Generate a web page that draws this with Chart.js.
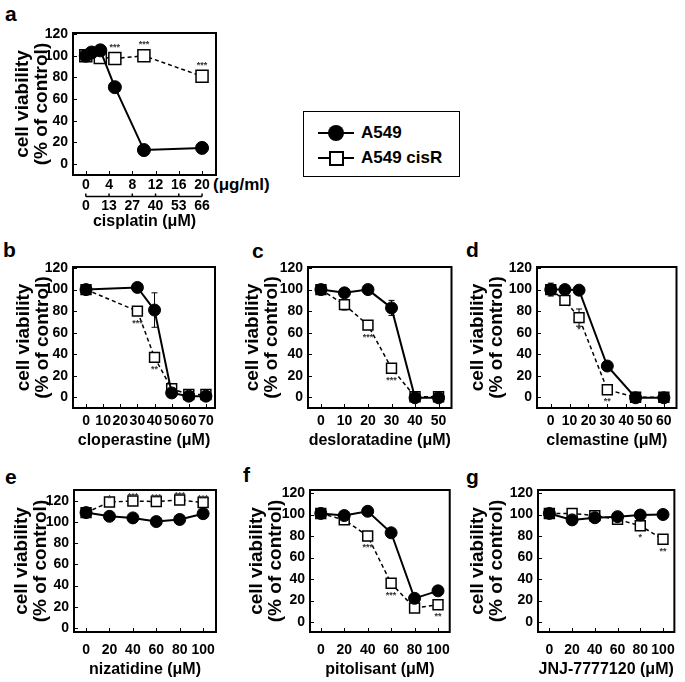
<!DOCTYPE html>
<html>
<head>
<meta charset="utf-8">
<script src="https://cdn.jsdelivr.net/npm/chart.js@4.4.0/dist/chart.umd.min.js"></script>
<style>
  body { margin: 0; background: #fff; }
  #fig { position: relative; width: 685px; height: 682px; overflow: hidden;
         font-family: 'Liberation Sans', Arial, sans-serif; font-weight: bold; color: #000; }
  #fig canvas { position: absolute; }
  .letter { position: absolute; font-size: 21px; line-height: 20px; }
  .unit { position: absolute; font-size: 17px; line-height: 18px; }
  #legend { position: absolute; left: 303px; top: 111px; width: 155px; height: 64px;
            border: 1.5px solid #000; }
  .key { position: absolute; left: 14px; width: 36px; height: 16px; }
  .key::before { content: ''; position: absolute; left: 0; right: 0; top: 7px; height: 2px; background: #000; }
  .key.dash::before { height: 1.5px; }
  .dot { position: absolute; left: 10px; top: 0; width: 16px; height: 16px; border-radius: 50%; background: #000; }
  .sq { position: absolute; left: 11px; top: 1px; width: 11px; height: 11px; border: 2px solid #000; background: #fff; }
  .ktxt { position: absolute; left: 57px; font-size: 17px; line-height: 16px; }
</style>
</head>
<body>
<div id="fig">
  <div class="letter" style="left:5px;top:4px">a</div>
  <div class="letter" style="left:3px;top:240px">b</div>
  <div class="letter" style="left:252px;top:241px">c</div>
  <div class="letter" style="left:466px;top:240px">d</div>
  <div class="letter" style="left:5px;top:467px">e</div>
  <div class="letter" style="left:243px;top:465px">f</div>
  <div class="letter" style="left:466px;top:467px">g</div>
  <div class="unit" style="left:213px;top:176px">(μg/ml)</div>
  <div id="legend">
    <div class="key" style="top:13px"><span class="dot"></span></div>
    <div class="ktxt" style="top:13px">A549</div>
    <div class="key dash" style="top:38px"><span class="sq"></span></div>
    <div class="ktxt" style="top:38px">A549 cisR</div>
  </div>
</div>

<script>
/* ---------- data ---------- */
const yTicks = [0, 20, 40, 60, 80, 100, 120];

// a: cisplatin (upper axis μg/ml, lower axis μM)
const aDoseA549 = [0, 1, 2.5, 5, 10, 20];
const aA549 = [100, 103, 105, 71, 13, 15];
const aDoseCisR = [0, 2.5, 5, 10, 20];
const aCisR = [100, 98.5, 97.5, 100, 81];
const aSigCisR = ['', '', '***', '***', '***'];
const aTicksUg = [0, 4, 8, 12, 16, 20];
const aTicksUM = ['0', '13', '27', '40', '53', '66'];

// b: cloperastine
const bDose = [0, 30, 40, 50, 60, 70];
const bA549 = [100, 102, 81, 4, 1, 1];
const bA549Err = [0, 0, 16, 0, 0, 0];
const bCisR = [100, 80, 37, 8, 2.5, 2.5];
const bCisRErr = [0, 0, 3, 0, 0, 0];
const bSigCisR = ['', '***', '**', '', '', ''];
const bTicks = [0, 10, 20, 30, 40, 50, 60, 70];

// c: desloratadine
const cDose = [0, 10, 20, 30, 40, 50];
const cA549 = [100, 97, 100, 83, -0.5, -0.5];
const cA549Err = [0, 4, 0, 7, 0, 0];
const cCisR = [100, 86, 67, 27, 0.5, 0.5];
const cCisRErr = [0, 5, 3, 4, 0, 0];
const cSigCisR = ['', '', '***', '***', '', ''];
const cTicks = [0, 10, 20, 30, 40, 50];

// d: clemastine
const dDose = [0, 7.5, 15, 30, 45, 60];
const dA549 = [100, 100, 99.5, 29, -0.5, -0.5];
const dA549Err = [6, 0, 4, 0, 0, 0];
const dCisR = [100, 90, 74, 7, 0, 0];
const dCisRErr = [0, 2, 8, 0, 0, 0];
const dSigCisR = ['', '', '*', '**', '', ''];
const dTicks = [0, 10, 20, 30, 40, 50, 60];

// e: nizatidine
const eDose = [0, 20, 40, 60, 80, 100];
const eA549 = [109, 105.5, 104, 100.5, 102.5, 108];
const eCisR = [109, 119, 120, 119.5, 121, 118.5];
const eSigCisR = ['', '*', '***', '***', '***', '***'];

// f: pitolisant
const fDose = [0, 20, 40, 60, 80, 100];
const fA549 = [101, 99, 103, 83, 22, 29];
const fA549Err = [0, 0, 0, 4, 0, 0];
const fCisR = [101, 95, 80, 36, 13, 16];
const fCisRErr = [0, 0, 4, 0, 0, 0];
const fSigCisR = ['', '', '***', '***', '', '**'];

// g: JNJ-7777120
const gDose = [0, 20, 40, 60, 80, 100];
const gA549 = [101, 95, 97, 98, 99.5, 100];
const gCisR = [101, 101, 99, 95.5, 89.5, 77];
const gSigCisR = ['', '', '', '', '*', '**'];

const doseTicks100 = [0, 20, 40, 60, 80, 100];

/* ---------- drawing helpers ---------- */
Chart.defaults.font.family = "'Liberation Sans', Arial, sans-serif";
Chart.defaults.font.weight = 'bold';
Chart.defaults.font.size = 14;
Chart.defaults.color = '#000';

function pts(xs, ys) {
  return xs.map((x, i) => ({ x: x, y: ys[i] }));
}

// frame box, inward ticks, error bars, significance stars, lower μM axis line
const extras = {
  id: 'extras',
  beforeDatasetsDraw(chart, args, opts) {
    const { ctx, scales } = chart;
    ctx.save();
    ctx.strokeStyle = '#000';
    ctx.lineWidth = 1;
    (opts.err || []).forEach((errs, di) => {
      if (!errs) return;
      const meta = chart.getDatasetMeta(di).data;
      const ds = chart.data.datasets[di].data;
      errs.forEach((e, i) => {
        if (!e) return;
        const x = meta[i].x;
        const y1 = scales.y.getPixelForValue(ds[i].y + e);
        const y2 = scales.y.getPixelForValue(ds[i].y - e);
        ctx.beginPath();
        ctx.moveTo(x, y1); ctx.lineTo(x, y2);
        ctx.moveTo(x - 3, y1); ctx.lineTo(x + 3, y1);
        ctx.moveTo(x - 3, y2); ctx.lineTo(x + 3, y2);
        ctx.stroke();
      });
    });
    ctx.restore();
  },
  afterDatasetsDraw(chart, args, opts) {
    const { ctx, chartArea: ca, scales } = chart;
    ctx.save();
    ctx.strokeStyle = '#000';
    ctx.lineWidth = 2;
    ctx.strokeRect(ca.left, ca.top, ca.right - ca.left, ca.bottom - ca.top);
    ctx.lineWidth = 1;
    ctx.beginPath();
    scales.y.ticks.forEach(t => {
      const y = Math.round(scales.y.getPixelForValue(t.value)) + 0.5;
      ctx.moveTo(ca.left, y); ctx.lineTo(ca.left + 4, y);
    });
    scales.x.ticks.forEach(t => {
      const x = Math.round(scales.x.getPixelForValue(t.value)) + 0.5;
      ctx.moveTo(x, ca.bottom); ctx.lineTo(x, ca.bottom - 4);
    });
    ctx.stroke();

    // stars
    if (opts.sig) {
      ctx.fillStyle = '#333';
      ctx.font = 'bold 9px "Liberation Sans", Arial, sans-serif';
      ctx.textAlign = 'center';
      ctx.textBaseline = 'middle';
      const meta = chart.getDatasetMeta(1).data;
      opts.sig.forEach((s, i) => {
        if (!s) return;
        const off = opts.sigSide === 'above' ? -opts.sigOff : opts.sigOff;
        ctx.fillText(s, meta[i].x, meta[i].y + off);
      });
    }

    // lower μM axis for panel a
    if (scales.x2) {
      const s = scales.x2;
      const y = Math.round(s.top) + 1.5;
      const x0 = s.getPixelForValue(s.ticks[0].value);
      const x1 = s.getPixelForValue(s.ticks[s.ticks.length - 1].value);
      ctx.lineWidth = 1.5;
      ctx.beginPath();
      ctx.moveTo(x0, y); ctx.lineTo(x1, y);
      s.ticks.forEach(t => {
        const x = s.getPixelForValue(t.value);
        ctx.moveTo(x, y); ctx.lineTo(x, y - 3);
      });
      ctx.stroke();
    }
    ctx.restore();
  }
};

function buildPanel(p) {
  const cv = document.createElement('canvas');
  cv.width = p.w;
  cv.height = p.h;
  cv.style.left = p.left + 'px';
  cv.style.top = p.top + 'px';
  document.getElementById('fig').appendChild(cv);

  const [bl, bt, br, bb] = p.box;
  const bottomEdge = p.top + p.h;
  const big = !!p.big;

  const scales = {
    x: {
      type: 'linear', min: p.xMin, max: p.xMax, weight: 0,
      grid: { display: false, drawTicks: false }, border: { display: false },
      afterBuildTicks: s => { s.ticks = p.xTicks.map(v => ({ value: v })); },
      ticks: { padding: p.xTickPad, maxRotation: 0, autoSkip: false },
      afterFit: s => { s.height = p.xH || (bottomEdge - bb); }
    },
    y: {
      type: 'linear', min: p.yMin, max: p.yMax,
      grid: { display: false, drawTicks: false }, border: { display: false },
      afterBuildTicks: s => { s.ticks = yTicks.map(v => ({ value: v })); },
      ticks: { padding: 5 },
      title: {
        display: true, text: ['cell viability', '(% of control)'],
        font: { size: 19, weight: 'bold', lineHeight: 1.0 },
        padding: { top: p.yTitleX - p.left - 9.5, bottom: 0 }
      },
      afterFit: s => { s.width = bl - p.left; }
    }
  };

  const xTitle = {
    display: true, text: p.xTitle,
    font: { size: 16, weight: 'bold', lineHeight: 1.2 },
    padding: { top: 0, bottom: bottomEdge - p.xTitleY - 9.6 }
  };

  if (p.x2Labels) {
    scales.x2 = {
      type: 'linear', position: 'bottom', min: p.xMin, max: p.xMax, weight: 1,
      grid: { display: false, drawTicks: false }, border: { display: false },
      afterBuildTicks: s => { s.ticks = p.xTicks.map(v => ({ value: v })); },
      ticks: { padding: 3, maxRotation: 0, autoSkip: false,
               callback: (v, i) => p.x2Labels[i] },
      title: xTitle,
      afterFit: s => { s.height = bottomEdge - bb - p.xH; }
    };
  } else {
    scales.x.title = xTitle;
  }

  new Chart(cv, {
    type: 'line',
    data: {
      datasets: [
        {
          label: 'A549', data: p.a549, borderColor: '#000', borderWidth: 2,
          pointStyle: 'circle', pointRadius: big ? 6.5 : 6, pointBackgroundColor: '#000',
          pointBorderColor: '#000', pointBorderWidth: 1, tension: 0, clip: false
        },
        {
          label: 'A549 cisR', data: p.cisR, borderColor: '#000', borderWidth: 1.5,
          borderDash: [4, 3], pointStyle: 'rect', pointRadius: big ? 8.5 : 7,
          pointBackgroundColor: '#fff', pointBorderColor: '#000', pointBorderWidth: 1.5,
          tension: 0, clip: false
        }
      ]
    },
    options: {
      responsive: false, animation: false,
      layout: { padding: { left: 0, top: bt - p.top, right: p.left + p.w - br, bottom: 0 } },
      scales: scales,
      plugins: {
        legend: { display: false }, tooltip: { enabled: false },
        extras: { err: [p.a549Err, p.cisRErr], sig: p.sig, sigSide: p.sigSide, sigOff: p.sigOff }
      }
    },
    plugins: [extras]
  });
}

/* ---------- panels ---------- */
buildPanel({
  left: 0, top: 0, w: 240, h: 236, box: [73, 33, 216, 175], big: true,
  xMin: -2.2, xMax: 22.4, xTicks: aTicksUg, x2Labels: aTicksUM, xH: 20, xTickPad: 2,
  yMin: -10, yMax: 121, yTitleX: 23, xTitle: 'cisplatin (μM)', xTitleY: 222,
  a549: pts(aDoseA549, aA549), cisR: pts(aDoseCisR, aCisR),
  sig: aSigCisR, sigSide: 'above', sigOff: 11
});
buildPanel({
  left: 0, top: 240, w: 230, h: 215, box: [73, 267, 215, 408],
  xMin: -7.6, xMax: 75.3, xTicks: bTicks, xTickPad: 5,
  yMin: -10, yMax: 121, yTitleX: 24, xTitle: 'cloperastine (μM)', xTitleY: 441,
  a549: pts(bDose, bA549), cisR: pts(bDose, bCisR), a549Err: bA549Err, cisRErr: bCisRErr,
  sig: bSigCisR, sigSide: 'below', sigOff: 12
});
buildPanel({
  left: 235, top: 240, w: 225, h: 215, box: [308, 267, 452, 408],
  xMin: -5.5, xMax: 55.5, xTicks: cTicks, xTickPad: 5,
  yMin: -10, yMax: 121, yTitleX: 253, xTitle: 'desloratadine (μM)', xTitleY: 441,
  a549: pts(cDose, cA549), cisR: pts(cDose, cCisR), a549Err: cA549Err, cisRErr: cCisRErr,
  sig: cSigCisR, sigSide: 'below', sigOff: 12
});
buildPanel({
  left: 464, top: 240, w: 221, h: 215, box: [537, 267, 679, 408],
  xMin: -7.3, xMax: 66.7, xTicks: dTicks, xTickPad: 5,
  yMin: -10, yMax: 121, yTitleX: 478, xTitle: 'clemastine (μM)', xTitleY: 441,
  a549: pts(dDose, dA549), cisR: pts(dDose, dCisR), a549Err: dA549Err, cisRErr: dCisRErr,
  sig: dSigCisR, sigSide: 'below', sigOff: 12
});
buildPanel({
  left: 0, top: 460, w: 230, h: 222, box: [74, 490, 216, 632],
  xMin: -10.3, xMax: 111, xTicks: doseTicks100, xTickPad: 9.6,
  yMin: -4, yMax: 130.4, yTitleX: 22, xTitle: 'nizatidine (μM)', xTitleY: 670,
  a549: pts(eDose, eA549), cisR: pts(eDose, eCisR),
  sig: eSigCisR, sigSide: 'above', sigOff: 4
});
buildPanel({
  left: 237, top: 460, w: 223, h: 222, box: [310, 490, 452, 632],
  xMin: -9.2, xMax: 110, xTicks: doseTicks100, xTickPad: 9.6,
  yMin: -9.3, yMax: 122.8, yTitleX: 257, xTitle: 'pitolisant (μM)', xTitleY: 670,
  a549: pts(fDose, fA549), cisR: pts(fDose, fCisR), a549Err: fA549Err, cisRErr: fCisRErr,
  sig: fSigCisR, sigSide: 'below', sigOff: 12
});
buildPanel({
  left: 465, top: 460, w: 220, h: 222, box: [538, 490, 680, 632],
  xMin: -10, xMax: 110, xTicks: doseTicks100, xTickPad: 9.6,
  yMin: -9.3, yMax: 122.8, yTitleX: 478, xTitle: 'JNJ-7777120 (μM)', xTitleY: 670,
  a549: pts(gDose, gA549), cisR: pts(gDose, gCisR),
  sig: gSigCisR, sigSide: 'below', sigOff: 12
});
</script>
</body>
</html>
